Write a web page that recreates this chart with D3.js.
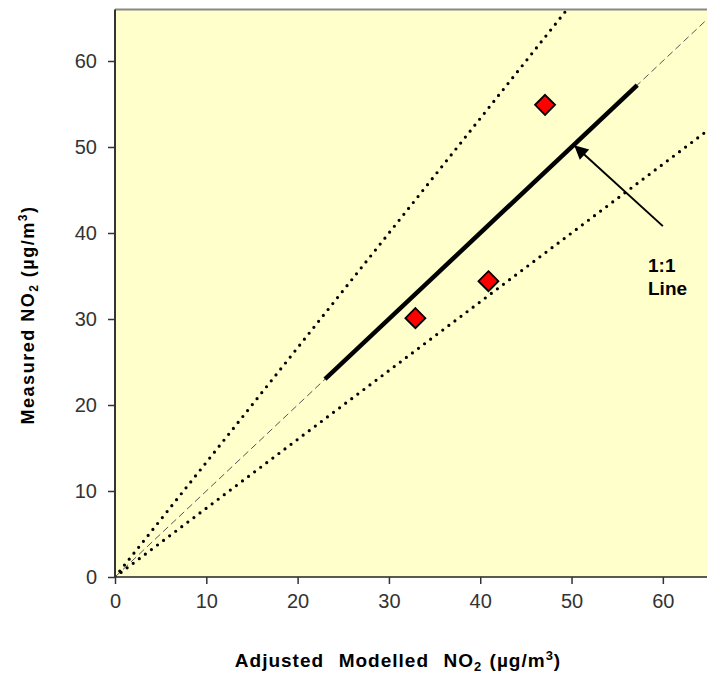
<!DOCTYPE html>
<html>
<head>
<meta charset="utf-8">
<script src="https://cdn.jsdelivr.net/npm/d3@7"></script>
<style>
  body { margin: 0; background: #fff; }
  svg { font-family: "Liberation Sans", Arial, sans-serif; }
  .tick text { fill: #333; font-size: 20px; }
  .title { white-space: pre; }
</style>
</head>
<body>
<script>
//data
var modelled = [32.9, 40.9, 47.1];
var measured = [30.1, 34.4, 54.9];
var xTicks = [0, 10, 20, 30, 40, 50, 60];
var yTicks = [0, 10, 20, 30, 40, 50, 60];
var oneToOne = [[23, 23], [57.2, 57.2]];   //thick part of the 1:1 line
var upperSlope = [1.333];
var lowerSlope = [0.8];
var arrowFrom = [60.0, 40.8], arrowTo = [50.4, 50.1];

window.onload = drawChart();

function drawChart(){

    var width = 707,
        height = 675;

    var svg = d3.select("body")
        .append("svg")
        .attr("width", width)
        .attr("height", height);

    var x = d3.scaleLinear().domain([0, 65]).range([115, 708.5]);
    var y = d3.scaleLinear().domain([0, 66]).range([577, 9.4]);

    var defs = svg.append("defs");
    defs.append("clipPath").attr("id", "plotClip")
        .append("rect")
        .attr("x", x(0)).attr("y", y(66))
        .attr("width", x(65) - x(0)).attr("height", y(0) - y(66));
    defs.append("marker")
        .attr("id", "head")
        .attr("viewBox", "0 0 10 10")
        .attr("refX", 9).attr("refY", 5)
        .attr("markerWidth", 16).attr("markerHeight", 14)
        .attr("markerUnits", "userSpaceOnUse")
        .attr("orient", "auto")
        .append("path")
        .attr("d", "M0,0 L10,5 L0,10 Z")
        .attr("fill", "#000");

    //plot background
    svg.append("rect")
        .attr("x", x(0)).attr("y", y(66))
        .attr("width", x(65) - x(0)).attr("height", y(0) - y(66))
        .attr("fill", "#ffffcc");

    //top border
    svg.append("line")
        .attr("x1", x(0)).attr("x2", width)
        .attr("y1", y(66)).attr("y2", y(66))
        .attr("stroke", "#888").attr("stroke-width", 2);

    var plot = svg.append("g").attr("clip-path", "url(#plotClip)");

    //dashed 1:1 line across the whole plot
    plot.append("line")
        .attr("x1", x(0)).attr("y1", y(0))
        .attr("x2", x(70)).attr("y2", y(70))
        .attr("stroke", "#555").attr("stroke-width", 1)
        .attr("stroke-dasharray", "7,4");

    //dotted +/- lines
    [upperSlope[0], lowerSlope[0]].forEach(function(s){
        plot.append("line")
            .attr("x1", x(0)).attr("y1", y(0))
            .attr("x2", x(70)).attr("y2", y(70 * s))
            .attr("stroke", "#000").attr("stroke-width", 3.2)
            .attr("stroke-linecap", "round")
            .attr("stroke-dasharray", "0,7.6");
    });

    //thick 1:1 segment
    plot.append("line")
        .attr("x1", x(oneToOne[0][0])).attr("y1", y(oneToOne[0][1]))
        .attr("x2", x(oneToOne[1][0])).attr("y2", y(oneToOne[1][1]))
        .attr("stroke", "#000").attr("stroke-width", 4.5);

    //points
    var pts = modelled.map(function(d, i){ return [d, measured[i]]; });
    plot.selectAll(".pt")
        .data(pts)
        .enter()
        .append("path")
        .attr("class", "pt")
        .attr("d", "M0,-10 L10,0 L0,10 L-10,0 Z")
        .attr("transform", function(d){ return "translate(" + x(d[0]) + "," + y(d[1]) + ")"; })
        .attr("fill", "#ff0000")
        .attr("stroke", "#000").attr("stroke-width", 1.8);

    //arrow
    svg.append("line")
        .attr("x1", x(arrowFrom[0])).attr("y1", y(arrowFrom[1]))
        .attr("x2", x(arrowTo[0])).attr("y2", y(arrowTo[1]))
        .attr("stroke", "#000").attr("stroke-width", 2)
        .attr("marker-end", "url(#head)");

    var lbl = svg.append("text")
        .attr("x", 648).attr("y", 272)
        .attr("font-size", "19px").attr("font-weight", "bold").attr("fill", "#000");
    lbl.append("tspan").attr("x", 648).text("1:1");
    lbl.append("tspan").attr("x", 648).attr("dy", 23).text("Line");

    //axes
    var xAxis = svg.append("g")
        .attr("transform", "translate(0," + y(0) + ")")
        .call(d3.axisBottom(x).tickValues(xTicks).tickSize(7).tickPadding(10));
    xAxis.select(".domain").attr("stroke", "#222").attr("stroke-width", 1.5)
        .attr("d", "M" + x(0) + ",0H" + width);

    var yAxis = svg.append("g")
        .attr("transform", "translate(" + x(0) + ",0)")
        .call(d3.axisLeft(y).tickValues(yTicks).tickSize(7).tickPadding(11));
    yAxis.select(".domain").attr("stroke", "#333").attr("stroke-width", 2)
        .attr("d", "M0," + y(66) + "V" + y(0));
    svg.selectAll(".tick line").attr("stroke", "#333").attr("stroke-width", 1.5);
    svg.selectAll(".tick text").attr("font-family", "Liberation Sans, Arial, sans-serif").attr("font-size", "20px").attr("fill", "#333");

    //axis titles
    var xt = svg.append("text")
        .attr("class", "title")
        .attr("x", 398).attr("y", 667)
        .attr("text-anchor", "middle")
        .attr("letter-spacing", "1px").attr("word-spacing", "1px")
        .attr("font-size", "19px").attr("font-weight", "bold");
    xt.append("tspan").text("Adjusted  Modelled  NO");
    xt.append("tspan").attr("font-size", "13px").attr("dy", 4).text("2");
    xt.append("tspan").attr("dy", -4).text(" (µg/m");
    xt.append("tspan").attr("font-size", "13px").attr("dy", -7).text("3");
    xt.append("tspan").attr("dy", 7).text(")");

    var yt = svg.append("text")
        .attr("class", "title")
        .attr("transform", "translate(34,315) rotate(-90)")
        .attr("text-anchor", "middle")
        .attr("letter-spacing", "1.5px")
        .attr("font-size", "18px").attr("font-weight", "bold");
    yt.append("tspan").text("Measured NO");
    yt.append("tspan").attr("font-size", "12px").attr("dy", 4).text("2");
    yt.append("tspan").attr("dy", -4).text(" (µg/m");
    yt.append("tspan").attr("font-size", "12px").attr("dy", -7).text("3");
    yt.append("tspan").attr("dy", 7).text(")");
};
</script>
</body>
</html>
